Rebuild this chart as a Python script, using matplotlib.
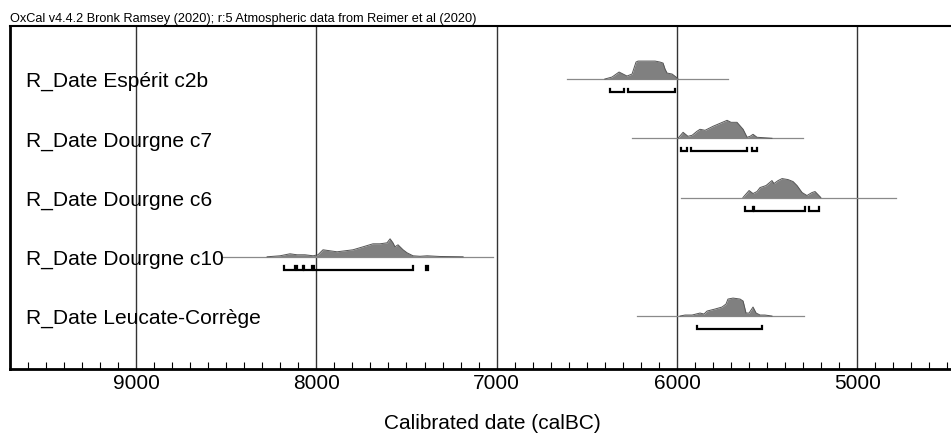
import numpy as np
import matplotlib
matplotlib.use("Agg")
import matplotlib.pyplot as plt

plt.rcParams['font.family'] = ['Liberation Sans', 'DejaVu Sans']

# names of the dated samples, top to bottom
etiquetas = ["R_Date Espérit c2b", "R_Date Dourgne c7", "R_Date Dourgne c6",
             "R_Date Dourgne c10", "R_Date Leucate-Corrège"]

# calibration range drawn as a thin line (calBC)
rango_linea = [(6610, 5717), (6249, 5301), (5977, 4785), (8523, 7020), (6221, 5295)]

# probability distributions: dates (calBC) and relative probability
fecha_esperit = [6400, 6360, 6321, 6299, 6277, 6249, 6227, 6216, 6149, 6121, 6094, 6077,
                 6066, 6055, 6027, 6005, 5994]
prob_esperit = [0, 2, 7, 5, 3, 5, 17, 18, 18, 18, 17, 16, 10, 6, 5, 2, 0]

fecha_c7 = [5994, 5966, 5939, 5916, 5889, 5872, 5844, 5800, 5761, 5722, 5700, 5667, 5633,
            5611, 5594, 5578, 5556, 5512, 5473]
prob_c7 = [0, 6, 2, 3, 7, 9, 8, 12, 15, 18, 16, 16, 9, 1, 2, 4, 1, 0.5, 0]

fecha_c6 = [5634, 5600, 5578, 5556, 5539, 5506, 5473, 5462, 5439, 5417, 5384, 5356, 5334,
            5306, 5279, 5251, 5234, 5218, 5202]
prob_c6 = [0, 7, 4, 6, 10, 12, 17, 14, 17, 19, 18, 16, 12, 5, 2, 5, 6, 3, 0]

fecha_c10 = [8273, 8201, 8146, 8107, 8063, 8018, 7991, 7963, 7924, 7885, 7841, 7797, 7741,
             7686, 7647, 7608, 7591, 7575, 7564, 7547, 7519, 7497, 7464, 7425, 7386, 7314, 7186]
prob_c10 = [0, 1, 3, 2, 2, 1, 2, 7, 6, 5, 6, 7, 10, 13, 13, 14, 18, 14, 10, 12, 7, 4, 1,
            0.5, 1, 0.3, 0]

fecha_leucate = [5983, 5955, 5916, 5872, 5850, 5833, 5789, 5750, 5728, 5717, 5689, 5650,
                 5633, 5617, 5600, 5578, 5561, 5539, 5512, 5473]
prob_leucate = [0, 1, 1, 3, 2, 5, 7, 9, 12, 17, 18, 17, 15, 3, 3, 9, 3, 1, 1, 0]

fechas = [fecha_esperit, fecha_c7, fecha_c6, fecha_c10, fecha_leucate]
probs = [prob_esperit, prob_c7, prob_c6, prob_c10, prob_leucate]

# 95.4% ranges (calBC)
rangos = [
    [(6371, 6293), (6271, 6011)],
    [(5977, 5944), (5922, 5611), (5584, 5556)],
    [(5622, 5578), (5573, 5290), (5267, 5212)],
    [(8179, 8118), (8107, 8074), (8068, 8024), (8013, 7464), (7392, 7380)],
    [(5889, 5528)],
]

fig = plt.figure(figsize=(9.51, 4.35), dpi=100)
ax = fig.add_axes([10 / 951, 1 - 370 / 435, 1 - 10 / 951, 343 / 435])
ax.set_xlim(9699, 4480)
ax.set_ylim(4.894, -0.895)

for x in [9000, 8000, 7000, 6000, 5000]:
    ax.axvline(x, color="#333333", lw=1, zorder=1)

escala = 0.32 / 19
for i in range(len(etiquetas)):
    ax.plot(rango_linea[i], [i, i], color="#8a8a8a", lw=0.9, zorder=2)
    f = np.array(fechas[i])
    p = np.array(probs[i]) * escala
    ax.fill_between(f, i, i - p, color="#808080", lw=0, zorder=3)
    ax.plot(f, i - p, color="#555555", lw=0.7, zorder=3)
    ax.text(9610, i + 0.03, etiquetas[i], fontsize=15.1, va="center", ha="left", zorder=4)
    yb = i + 0.22
    for a, b in rangos[i]:
        ax.plot([a, a, b, b], [yb - 0.06, yb, yb, yb - 0.06], color="black", lw=1.6,
                solid_joinstyle="miter", zorder=4)

ax.set_yticks([])
ax.set_xticks([9000, 8000, 7000, 6000, 5000])
ax.set_xticks(np.arange(4500, 9700, 100), minor=True)
ax.tick_params(axis="x", which="major", direction="in", length=0, labelsize=15, pad=3)
ax.tick_params(axis="x", which="minor", direction="in", length=5, width=0.8)
ax.spines["right"].set_visible(False)
ax.spines["left"].set_linewidth(2)
ax.spines["bottom"].set_linewidth(2)
ax.spines["top"].set_linewidth(1.5)

fig.text(492 / 951, 1 - 424 / 435, "Calibrated date (calBC)", fontsize=15,
         va="center", ha="center")
fig.text(10 / 951, 1 - 19 / 435, "OxCal v4.4.2 Bronk Ramsey (2020); r:5 Atmospheric data from Reimer et al (2020)",
         fontsize=9.2, va="center", ha="left")

fig.savefig("out.png", dpi=100)
